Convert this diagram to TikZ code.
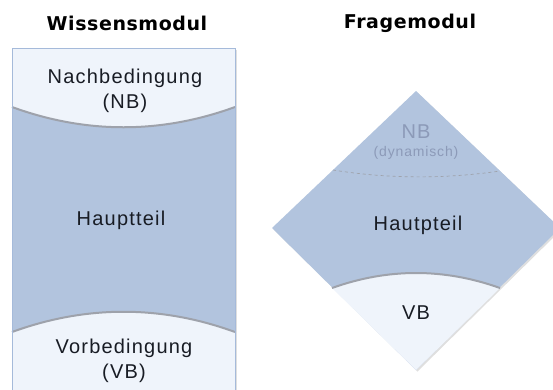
\documentclass[tikz,border=0pt]{standalone}
\usepackage{fontspec}
\setmainfont{Liberation Sans}
\newfontfamily\titlefont{DejaVu Sans}
\usepackage{xcolor}
\usetikzlibrary{shadows}
\definecolor{modblue}{RGB}{178,196,222}
\definecolor{modwhite}{RGB}{239,244,251}
\definecolor{modedge}{RGB}{165,186,218}
\definecolor{modshade}{RGB}{158,162,171}
\definecolor{modtext}{RGB}{24,28,36}
\definecolor{nbtext}{RGB}{140,154,184}

\begin{document}
\begin{tikzpicture}[x=1pt, y=-1pt,
  modtitle/.style={font=\titlefont\bfseries\fontsize{19}{21}\selectfont\addfontfeatures{LetterSpace=3}, text=black},
  modlabel/.style={font=\fontsize{20}{25}\selectfont\addfontfeatures{LetterSpace=6}, text=modtext, align=center},
  faded/.style={modlabel, text=nbtext},
  shadeline/.style={draw=modshade, line width=2pt},
  softshadow/.style={drop shadow={opacity=0.25, shadow xshift=1.5pt, shadow yshift=-1.5pt}}
]
\useasboundingbox (0,0) rectangle (553,389);

\fill[modwhite, softshadow] (12,48) rectangle (235,395);
\fill[modblue] (12,107) .. controls (86,134) and (161,134) .. (235,107)
  -- (235,332) .. controls (161,305) and (86,305) .. (12,332) -- cycle;
\draw[shadeline] (12,107) .. controls (86,134) and (161,134) .. (235,107);
\draw[shadeline] (12,332) .. controls (86,305) and (161,305) .. (235,332);
\draw[modedge] (12,395) |- (235,48) -- (235,395);

\fill[modblue, softshadow] (416,91) -- (560,228) -- (416,370) -- (272,228) -- cycle;
\fill[modwhite] (332,288) .. controls (388,268) and (444,268) .. (500,288) -- (416,370) -- cycle;
\draw[shadeline] (332,288) .. controls (388,268) and (444,268) .. (500,288);
\draw[modshade, dashed, line width=0.7pt] (333,170) .. controls (389,179) and (445,179) .. (500,171);

\node[modtitle] (wtitle) at (127,23) {Wissensmodul};
\node[modtitle] (ftitle) at (410,23) {Fragemodul};

\node[modlabel] (nach) at (125,90.5) {Nachbedingung\\(NB)};
\node[modlabel] (haupt) at (121,220) {Hauptteil};
\node[modlabel] (vor) at (124,360.5) {Vorbedingung\\(VB)};

\node[faded] (nbdyn) at (416,132) {NB};
\node[faded, font=\fontsize{14}{16}\selectfont\addfontfeatures{LetterSpace=6}] (dyn) at (416,153) {(dynamisch)};
\node[modlabel] (hautpt) at (418,225) {Hautpteil};
\node[modlabel] (vb) at (416,313) {VB};
\end{tikzpicture}
\end{document}
